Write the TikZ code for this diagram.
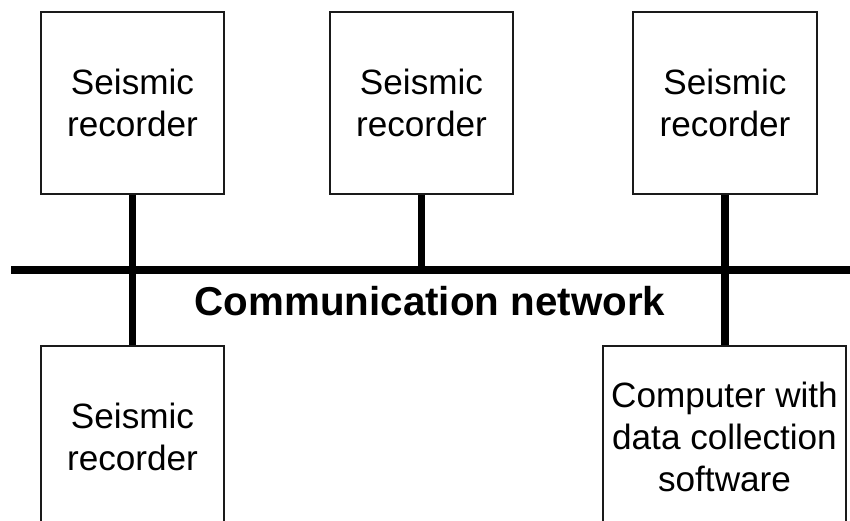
\documentclass[tikz,border=0pt]{standalone}
\usepackage{fontspec}
\setmainfont{Liberation Sans}
\definecolor{boxLine}{HTML}{1A1A1A}

\begin{document}
\begin{tikzpicture}[x=0.03cm,y=-0.03cm,
  unitbox/.style={draw=boxLine,line width=0.9pt,fill=white,minimum height=182*0.03cm,
    align=center,inner sep=0pt,font=\fontsize{30}{36}\selectfont},
  wire/.style={line width=6pt,black},
  bus/.style={line width=6.8pt,black}]
  \useasboundingbox (0,0) rectangle (850,520);
  \clip (0,0) rectangle (850,520);
  % bus line
  \coordinate (busL) at (11,270);
  \coordinate (busR) at (852,270);
  \draw[bus] (busL) -- (busR);
  % stations
  \node[unitbox,minimum width=183*0.03cm] (rec1) at (132.5,103) {Seismic\\recorder};
  \node[unitbox,minimum width=183*0.03cm] (rec2) at (421.5,103) {Seismic\\recorder};
  \node[unitbox,minimum width=184*0.03cm] (rec3) at (725,103) {Seismic\\recorder};
  \node[unitbox,minimum width=183*0.03cm] (rec4) at (132.5,437) {Seismic\\recorder};
  \node[unitbox,minimum width=243*0.03cm] (pc) at (724.5,437) {Computer with\\data collection\\software};
  \draw[wire] (rec1.south) -- (rec4.north);
  \draw[wire] (rec2.south) -- (rec2.south |- busL);
  \draw[wire] (rec3.south) -- (rec3.south |- pc.north);
  \node[anchor=base,font=\fontsize{34.4}{40}\selectfont\bfseries] (net) at (430,315) {Communication network};
\end{tikzpicture}
\end{document}
